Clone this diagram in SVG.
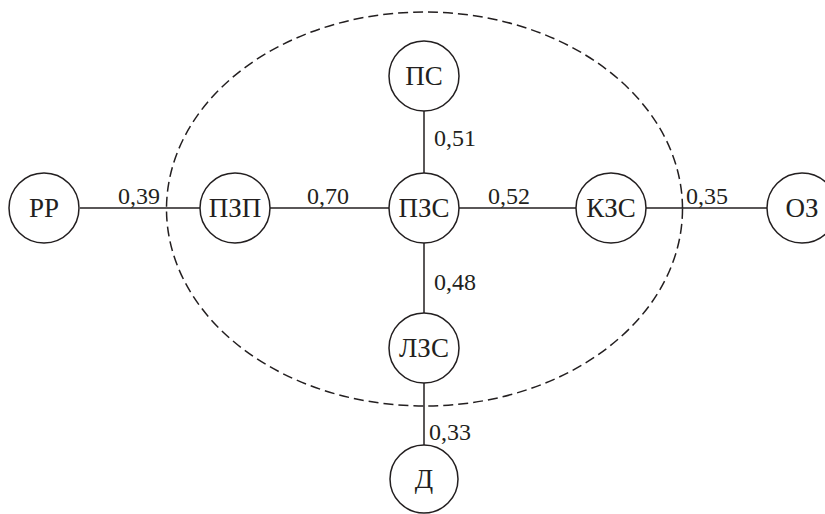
<svg xmlns="http://www.w3.org/2000/svg" width="825" height="514" viewBox="0 0 825 514">
<style>
.bg{fill:#fff}
.node circle{fill:#fff;stroke:#231f20;stroke-width:1.5}
.node text{font-family:"Liberation Serif","Times New Roman",serif;font-size:27px;fill:#231f20;text-anchor:middle}
.edge{stroke:#231f20;stroke-width:1.5;fill:none}
.lbl{font-family:"Liberation Serif","Times New Roman",serif;font-size:24px;fill:#231f20}
.zone{fill:none;stroke:#231f20;stroke-width:1.5;stroke-dasharray:10 5}
</style>
<rect class="bg" x="0" y="0" width="825" height="514"/>
<g id="connectors">
<line class="edge" x1="80" y1="208" x2="200" y2="208"/>
<line class="edge" x1="270" y1="208" x2="389" y2="208"/>
<line class="edge" x1="459" y1="208" x2="576" y2="208"/>
<line class="edge" x1="646" y1="208" x2="767" y2="208"/>
<line class="edge" x1="424" y1="111" x2="424" y2="173"/>
<line class="edge" x1="424" y1="243" x2="424" y2="313"/>
<line class="edge" x1="424" y1="383" x2="424" y2="445"/>
<text class="lbl" x="118" y="204">0,39</text>
<text class="lbl" x="307" y="204">0,70</text>
<text class="lbl" x="488" y="204">0,52</text>
<text class="lbl" x="686" y="204">0,35</text>
<text class="lbl" x="434" y="146">0,51</text>
<text class="lbl" x="434" y="290">0,48</text>
<text class="lbl" x="429" y="440">0,33</text>
</g>
<ellipse id="zone" class="zone" cx="424.5" cy="209" rx="258" ry="197"/>
<g id="n-rr" class="node"><circle cx="44" cy="208" r="35"/><text x="44" y="217">РР</text></g>
<g id="n-pzp" class="node"><circle cx="235" cy="208" r="35"/><text x="235" y="217">ПЗП</text></g>
<g id="n-pzs" class="node"><circle cx="424" cy="208" r="35"/><text x="424" y="217">ПЗС</text></g>
<g id="n-kzs" class="node"><circle cx="611" cy="208" r="35"/><text x="611" y="217">КЗС</text></g>
<g id="n-oz" class="node"><circle cx="802" cy="208" r="35"/><text x="802" y="217">ОЗ</text></g>
<g id="n-ps" class="node"><circle cx="424" cy="76" r="35"/><text x="424" y="85">ПС</text></g>
<g id="n-lzs" class="node"><circle cx="424" cy="348" r="35"/><text x="424" y="357">ЛЗС</text></g>
<g id="n-d" class="node"><circle cx="424" cy="479" r="34"/><text x="424" y="488">Д</text></g>
</svg>
